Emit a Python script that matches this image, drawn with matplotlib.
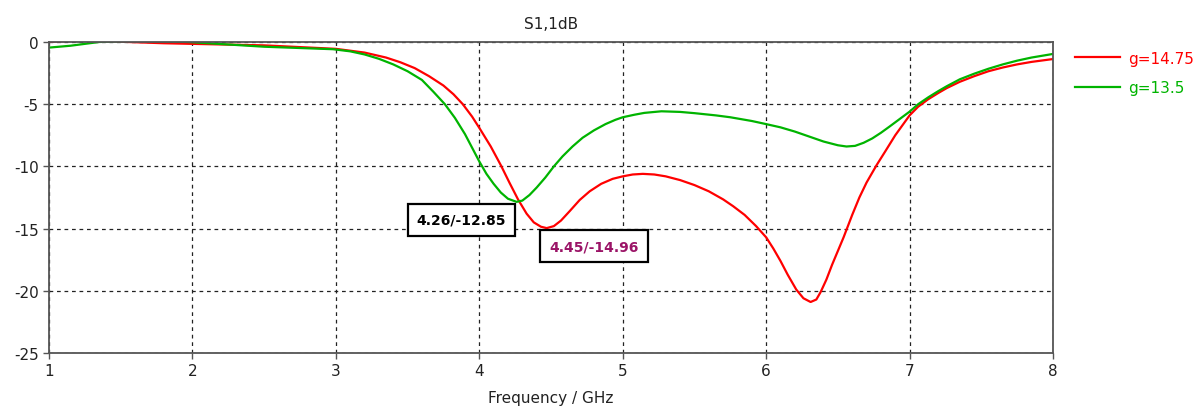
import numpy as np
import matplotlib
matplotlib.use("Agg")
import matplotlib.pyplot as plt

#   S11 curves (frequency in GHz, S11 in dB)
freq_red = [1.0, 1.2, 1.4, 1.55, 1.8, 2.0, 2.5, 3.0, 3.2, 3.35, 3.45, 3.55,
            3.65, 3.75, 3.82, 3.885, 3.95, 4.0, 4.08, 4.15, 4.21, 4.27, 4.33,
            4.38, 4.43, 4.47, 4.52, 4.57, 4.63, 4.7, 4.77, 4.85, 4.93, 5.0,
            5.07, 5.14, 5.22, 5.3, 5.4, 5.5, 5.6, 5.7, 5.77, 5.85, 5.93, 6.0,
            6.05, 6.1, 6.15, 6.21, 6.26, 6.31, 6.35, 6.38, 6.42, 6.46, 6.5,
            6.54, 6.6, 6.65, 6.7, 6.77, 6.83, 6.9, 6.95, 7.0, 7.06, 7.13, 7.2,
            7.26, 7.35, 7.45, 7.55, 7.65, 7.75, 7.85, 8.0]
s11_red = [0.0, 0.15, 0.1, 0.0, -0.1, -0.15, -0.27, -0.55, -0.85, -1.25,
           -1.63, -2.1, -2.75, -3.5, -4.2, -5.0, -6.0, -6.9, -8.4, -9.9,
           -11.3, -12.65, -13.8, -14.5, -14.85, -14.96, -14.8, -14.35, -13.6,
           -12.7, -12.0, -11.4, -11.0, -10.8, -10.65, -10.6, -10.65, -10.8,
           -11.1, -11.5, -12.0, -12.65, -13.2, -13.9, -14.8, -15.7, -16.6,
           -17.6, -18.7, -19.9, -20.6, -20.9, -20.7, -20.1, -19.1, -17.9,
           -16.8, -15.7, -13.9, -12.5, -11.3, -9.9, -8.8, -7.5, -6.7, -5.9,
           -5.2, -4.6, -4.1, -3.7, -3.2, -2.75, -2.35, -2.05, -1.8, -1.6,
           -1.37]

freq_green = [1.0, 1.15, 1.35, 1.6, 1.97, 2.5, 2.98, 3.1, 3.2, 3.3, 3.4, 3.5,
              3.6, 3.68, 3.76, 3.83, 3.9, 3.95, 4.0, 4.05, 4.1, 4.15, 4.2,
              4.26, 4.3, 4.35, 4.4, 4.46, 4.52, 4.58, 4.65, 4.72, 4.8, 4.88,
              4.95, 5.0, 5.08, 5.15, 5.27, 5.4, 5.5, 5.65, 5.75, 5.9, 6.0, 6.1,
              6.2, 6.3, 6.4, 6.5, 6.56, 6.62, 6.68, 6.74, 6.8, 6.86, 6.93, 7.0,
              7.06, 7.13, 7.2, 7.26, 7.35, 7.45, 7.55, 7.65, 7.75, 7.85, 8.0]
s11_green = [-0.45, -0.3, 0.0, 0.1, 0.0, -0.38, -0.58, -0.75, -1.0, -1.35,
             -1.8, -2.35, -3.05, -4.0, -5.0, -6.1, -7.4, -8.5, -9.6, -10.6,
             -11.4, -12.1, -12.6, -12.85, -12.75, -12.3, -11.7, -10.9, -10.0,
             -9.2, -8.4, -7.7, -7.1, -6.6, -6.25, -6.05, -5.85, -5.7, -5.57,
             -5.62, -5.72, -5.9, -6.05, -6.35, -6.6, -6.86, -7.2, -7.6, -8.0,
             -8.3, -8.4, -8.35, -8.1, -7.75, -7.3, -6.8, -6.2, -5.6, -5.0,
             -4.45, -3.95, -3.55, -3.0, -2.55, -2.15, -1.8, -1.5, -1.25, -0.96]

labels = ["g=14.75", "g=13.5"]

#   Markers: (frequency, dB), box offset in pixels, text colour
markers = [(4.26, -12.85), (4.45, -14.96)]
marker_offsets = [(-55, -18), (50, -18)]
marker_colors = ["#000000", "#9b1467"]

plt.rcParams['font.family'] = ['DejaVu Sans']
plt.rcParams['axes.unicode_minus'] = False

fig = plt.figure(figsize=(12.03, 4.14), dpi=100)
ax = fig.add_axes([49 / 1203, 1 - 354 / 414, 1004 / 1203, 311 / 414])

ax.plot(freq_red, s11_red, color="#ff0000", lw=1.6, label=labels[0])
ax.plot(freq_green, s11_green, color="#00b400", lw=1.6, label=labels[1])

ax.set_xlim(1, 8)
ax.set_ylim(-25, 0)
ax.set_xticks(np.arange(1, 9, 1))
ax.set_yticks(np.arange(-25, 1, 5))
ax.grid(True, color="#222222", linestyle=(0, (3, 3)), linewidth=0.9)

for sp in ax.spines.values():
    sp.set_color("#555555")
    sp.set_linewidth(1.3)
ax.tick_params(direction="out", length=4, width=1, colors="#555555",
               labelcolor="#222222", labelsize=11)

ax.set_title("S1,1dB", fontsize=11, color="#222222", pad=10)
ax.set_xlabel("Frequency / GHz", fontsize=11, color="#222222", labelpad=8)

for (mx, my), off, col in zip(markers, marker_offsets, marker_colors):
    ax.annotate("{:.2f}/{:.2f}".format(mx, my), xy=(mx, my),
                xytext=off, textcoords="offset pixels",
                ha="center", va="center", fontsize=10, fontweight="bold",
                color=col,
                bbox=dict(boxstyle="square,pad=0.65", fc="white",
                          ec="black", lw=1.6))

leg = ax.legend(loc="upper left", bbox_to_anchor=(1.022, 0.972),
                frameon=False, fontsize=11, handlelength=2.95,
                handletextpad=0.5, labelspacing=0.95, borderpad=0,
                borderaxespad=0, labelcolor="linecolor")

fig.savefig("out.png", dpi=100)
